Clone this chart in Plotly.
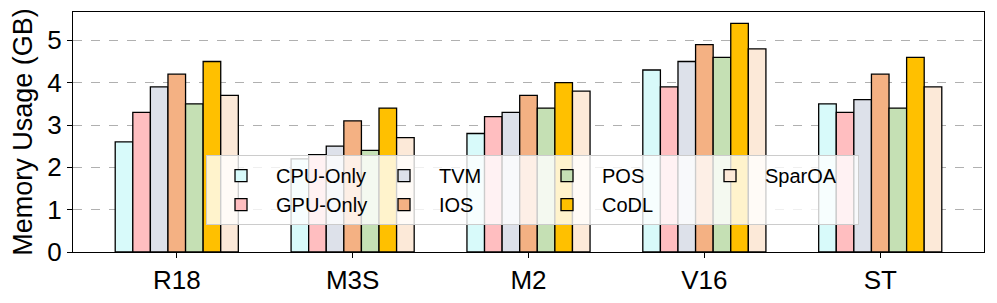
import plotly.graph_objects as go

categories = ["R18", "M3S", "M2", "V16", "ST"]
series_names = ["CPU-Only", "GPU-Only", "TVM", "IOS", "POS", "CoDL", "SparOA"]
cpu_only = [2.6, 2.2, 2.8, 4.3, 3.5]
gpu_only = [3.3, 2.3, 3.2, 3.9, 3.3]
tvm = [3.9, 2.5, 3.3, 4.5, 3.6]
ios = [4.2, 3.1, 3.7, 4.9, 4.2]
pos = [3.5, 2.4, 3.4, 4.6, 3.4]
codl = [4.5, 3.4, 4.0, 5.4, 4.6]
sparoa = [3.7, 2.7, 3.8, 4.8, 3.9]
y_ticks = [0, 1, 2, 3, 4, 5]

series_values = [cpu_only, gpu_only, tvm, ios, pos, codl, sparoa]
colors = ["#d8fafa", "#ffbec0", "#dde1ea", "#f4b183", "#c5e0b4", "#ffc000", "#fce9d8"]
groups = ["g1", "g1", "g2", "g2", "g3", "g3", "g4"]

FONT = "Liberation Sans, Arial, sans-serif"

fig = go.Figure()
for name, vals, col, grp in zip(series_names, series_values, colors, groups):
    fig.add_trace(go.Bar(
        x=categories, y=vals, name=name, legendgroup=grp,
        marker=dict(color=col, line=dict(color="black", width=1.3)),
    ))

# page body has an 8px default margin, so the figure is sized to fit the window
fig.update_layout(
    width=989, height=295,
    margin=dict(l=65, r=13, t=4, b=51, autoexpand=False),
    paper_bgcolor="white", plot_bgcolor="white",
    barmode="group", bargap=0.3, bargroupgap=0,
    font=dict(family=FONT, color="black"),
    showlegend=True,
    legend=dict(
        orientation="h", traceorder="grouped",
        x=0.146, y=0.404, xanchor="left", yanchor="top",
        bgcolor="rgba(255,255,255,0.8)", bordercolor="#cccccc", borderwidth=1,
        font=dict(family=FONT, size=20, color="black"),
        itemwidth=60, entrywidth=88, tracegroupgap=0,
        itemclick=False, itemdoubleclick=False,
    ),
)
fig.update_xaxes(
    range=[-0.59, 4.59], showline=True, linecolor="black", linewidth=1.3, mirror=True,
    ticks="outside", ticklen=5, tickcolor="black", tickwidth=1.3,
    tickfont=dict(family=FONT, size=26, color="black"), showgrid=False,
    automargin=False,
)
fig.update_yaxes(
    range=[0, 5.67], tickvals=y_ticks, showline=True, linecolor="black", linewidth=1.3, mirror=True,
    ticks="outside", ticklen=5, tickcolor="black", tickwidth=1.3,
    tickfont=dict(family=FONT, size=26, color="black"),
    showgrid=True, gridcolor="#b0b0b0", griddash="dash", gridwidth=1,
    zeroline=False, automargin=False,
    title=dict(text="Memory Usage (GB)", font=dict(family=FONT, size=27, color="black"), standoff=12),
)

fig.write_html("out.html")
